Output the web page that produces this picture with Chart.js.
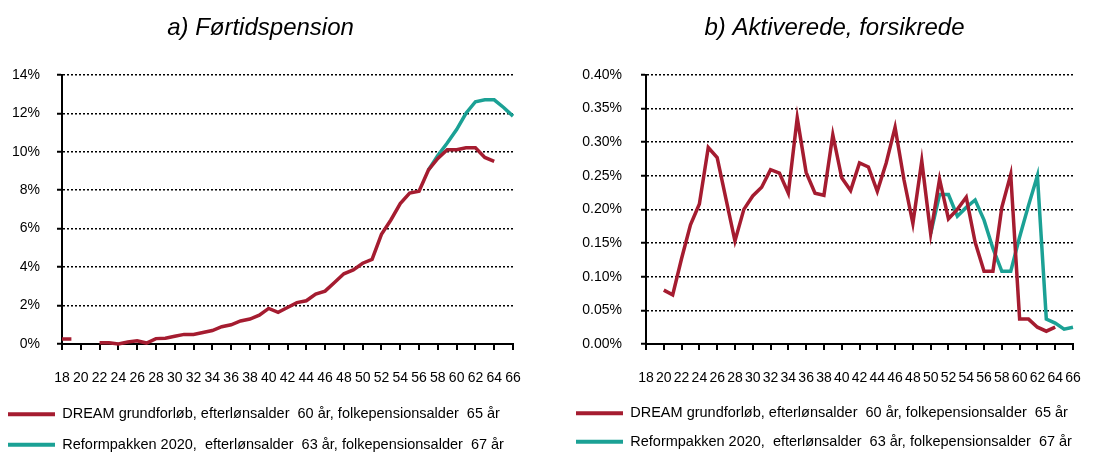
<!DOCTYPE html>
<html>
<head>
<meta charset="utf-8">
<script src="https://cdn.jsdelivr.net/npm/chart.js@4"></script>
<style>
  body { margin: 0; background: #fff; }
  #wrap { position: relative; width: 1107px; height: 453px; }
  .box { position: absolute; top: 0; height: 453px; }
</style>
</head>
<body>
<div id="wrap">
  <div class="box" style="left:0;width:553px"><canvas id="chartA" width="553" height="453"></canvas></div>
  <div class="box" style="left:560px;width:547px"><canvas id="chartB" width="547" height="453"></canvas></div>
</div>
<script>
const ages = [18,19,20,21,22,23,24,25,26,27,28,29,30,31,32,33,34,35,36,37,38,39,40,41,42,
  43,44,45,46,47,48,49,50,51,52,53,54,55,56,57,58,59,60,61,62,63,64,65,66];

const seriesNames = [
  'DREAM grundforløb, efterlønsalder  60 år, folkepensionsalder  65 år',
  'Reformpakken 2020,  efterlønsalder  63 år, folkepensionsalder  67 år'
];

// a) Førtidspension, pct.
const dreamA = [0.26,0.26,null,null,0.07,0.07,0.0,0.1,0.17,0.05,0.28,0.3,0.4,0.5,0.5,0.6,0.7,0.9,1.0,1.2,
  1.3,1.5,1.85,1.65,1.9,2.15,2.25,2.6,2.75,3.2,3.65,3.85,4.2,4.4,5.7,6.45,7.3,7.85,7.95,9.05,
  9.65,10.1,10.1,10.2,10.2,9.7,9.5,null,null];
const reformA = [null,null,null,null,null,null,null,null,null,null,null,null,null,null,null,null,null,null,null,null,
  null,null,null,null,null,null,null,null,null,null,null,null,null,null,null,null,null,null,null,9.05,
  9.8,10.45,11.15,12.0,12.6,12.7,12.7,12.3,11.85];

// b) Aktiverede, forsikrede, pct.
const dreamB = [null,null,0.080,0.073,0.127,0.177,0.208,0.292,0.277,0.215,0.153,0.200,0.220,0.233,0.259,0.254,0.224,0.336,0.255,0.224,
  0.221,0.311,0.247,0.228,0.269,0.263,0.227,0.269,0.322,0.244,0.179,0.272,0.164,0.245,0.186,0.200,0.218,0.151,0.108,0.108,
  0.203,0.252,0.037,0.037,0.025,0.019,0.025,null,null];
const reformB = [null,null,null,null,null,null,null,null,null,null,null,null,null,null,null,null,null,null,null,null,
  null,null,null,null,null,null,null,null,null,null,null,null,0.164,0.222,0.222,0.190,0.203,0.214,0.184,0.142,
  0.108,0.108,0.159,0.206,0.250,0.037,0.031,0.022,0.025];

const RED = '#A51C30';
const GREEN = '#1BA195';
const FONT = "'Liberation Sans', Arial, sans-serif";

Chart.defaults.font.family = FONT;
Chart.defaults.color = '#000';

// Chart.js centres title/legend on the full width, so nudge them after layout.
// Also let the x labels overflow the (shortened) x scale box, labels are clipped to it.
const nudgeBlocks = {
  id: 'nudgeBlocks',
  afterLayout(chart, args, opts) {
    const t = chart.titleBlock;
    if (t) { t.left += opts.titleDx || 0; t.right += opts.titleDx || 0; }
    const l = chart.legend;
    if (l) {
      l.left += opts.legendDx || 0; l.right += opts.legendDx || 0;
      l.top += opts.legendDy || 0; l.bottom += opts.legendDy || 0;
    }
    chart.scales.x.bottom = chart.height;
  }
};

const toPoints = vals => ages.map((a, i) => ({ x: a, y: vals[i] }));

function makeChart(id, cfg) {
  const ctx = document.getElementById(id).getContext('2d');
  return new Chart(ctx, {
    type: 'line',
    data: {
      datasets: [
        { label: seriesNames[0], data: toPoints(cfg.red), borderColor: RED, backgroundColor: RED },
        { label: seriesNames[1], data: toPoints(cfg.green), borderColor: GREEN, backgroundColor: GREEN }
      ]
    },
    options: {
      responsive: false,
      animation: false,
      devicePixelRatio: 1,
      spanGaps: false,
      datasets: {
        line: { borderWidth: 3.5, pointRadius: 0, tension: 0, clip: false }
      },
      layout: { padding: cfg.padding },
      scales: {
        x: {
          type: 'linear',
          min: 18,
          max: 66,
          ticks: { stepSize: 2, autoSkip: false, maxRotation: 0, padding: 20, font: { size: 14 } },
          grid: { drawOnChartArea: false, drawTicks: true, tickLength: 6, color: '#000', lineWidth: 2 },
          border: { display: true, color: '#000', width: 2 },
          afterFit: s => { s.height = cfg.xHeight; }
        },
        y: {
          min: 0,
          max: cfg.yMax,
          ticks: { stepSize: cfg.yStep, padding: cfg.yPad, font: { size: 14 }, callback: cfg.yFmt },
          grid: { color: '#000', lineWidth: 1.5, tickLength: 5, tickWidth: 2, tickColor: '#000', tickBorderDash: [] },
          border: { display: true, color: '#000', width: 2, dash: [2, 2] },
          afterFit: s => { s.width = cfg.yWidth; }
        }
      },
      plugins: {
        title: {
          display: true,
          text: cfg.title,
          color: '#000',
          font: { size: 24, style: 'italic', weight: 'normal' },
          padding: { top: 14, bottom: 32 }
        },
        nudgeBlocks: cfg.nudge,
        legend: {
          position: 'bottom',
          align: 'start',
          labels: {
            boxWidth: 47,
            boxHeight: 4,
            padding: cfg.legendPad,
            font: { size: 14.5 },
            color: '#000',
            generateLabels: chart => Chart.defaults.plugins.legend.labels.generateLabels(chart)
              .map(l => Object.assign(l, { lineWidth: 0, fillStyle: l.strokeStyle }))
          }
        },
        tooltip: { enabled: false }
      }
    },
    plugins: [nudgeBlocks]
  });
}

makeChart('chartA', {
  title: 'a) Førtidspension',
  red: dreamA, green: reformA,
  yMax: 14, yStep: 2, yFmt: v => v + '%',
  yWidth: 62, yPad: 17, xHeight: 38,
  padding: { left: 0, right: 40, top: 0, bottom: 0 },
  legendPad: 16,
  nudge: { titleDx: 4, legendDx: -8, legendDy: 9 }
});

makeChart('chartB', {
  title: 'b) Aktiverede, forsikrede',
  red: dreamB, green: reformB,
  yMax: 0.4, yStep: 0.05, yFmt: v => v.toFixed(2) + '%',
  yWidth: 86, yPad: 19, xHeight: 42,
  padding: { left: 0, right: 34, top: 0, bottom: 0 },
  legendPad: 14,
  nudge: { titleDx: 18, legendDx: 2, legendDy: 6 }
});
</script>
</body>
</html>
